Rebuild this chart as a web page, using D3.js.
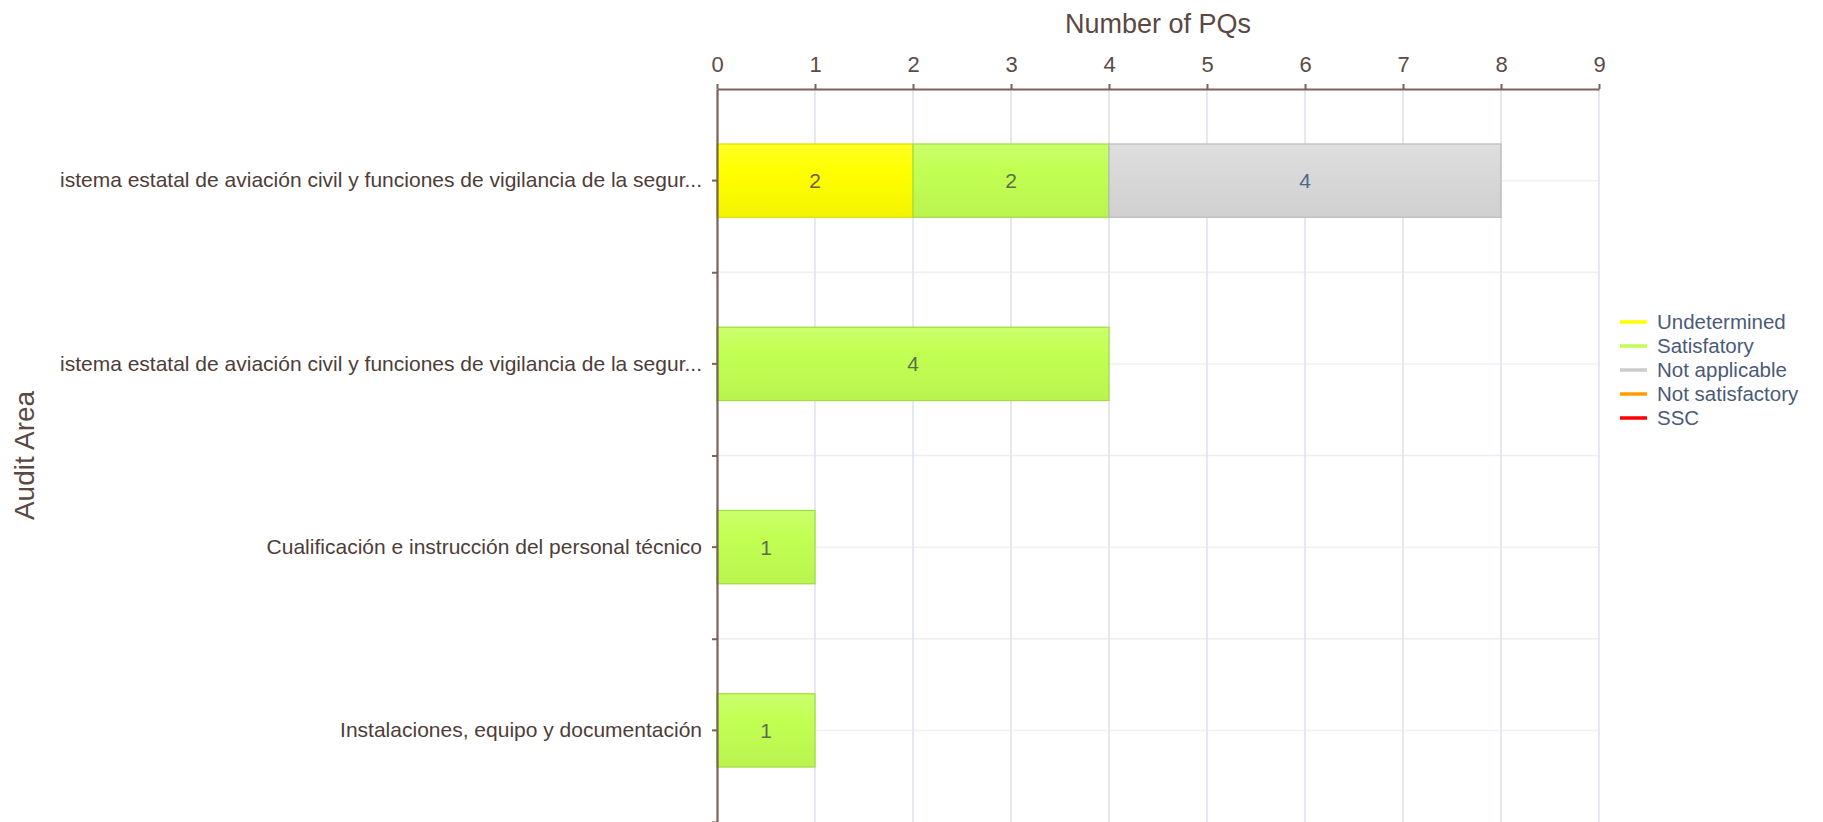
<!DOCTYPE html>
<html>
<head>
<meta charset="utf-8">
<script src="https://cdn.jsdelivr.net/npm/d3@7"></script>
<style>
  body { margin: 0; background: #fff; }
  svg { display: block; font-family: "Liberation Sans", Arial, sans-serif; }
</style>
</head>
<body>
<svg id="chart" width="1823" height="822"></svg>
<script>
// audit areas (the first two labels come truncated like that)
const categories = [
  'istema estatal de aviación civil y funciones de vigilancia de la segur...',
  'istema estatal de aviación civil y funciones de vigilancia de la segur...',
  'Cualificación e instrucción del personal técnico',
  'Instalaciones, equipo y documentación'
]
const seriesNames = ['Undetermined', 'Satisfatory', 'Not applicable', 'Not satisfactory', 'SSC']
const undetermined = [2, 0, 0, 0]
const satisfatory = [2, 4, 1, 1]
const notApplicable = [4, 0, 0, 0]
const notSatisfactory = [0, 0, 0, 0]
const ssc = [0, 0, 0, 0]
const xTicks = [0, 1, 2, 3, 4, 5, 6, 7, 8, 9]

const colors = {
  'Undetermined': '#ffff00',
  'Satisfatory': '#c2ff52',
  'Not applicable': '#d9d9d9',
  'Not satisfactory': '#ff9c00',
  'SSC': '#ff0000'
}
const strokes = {
  'Undetermined': '#e0e000',
  'Satisfatory': '#a2dc3c',
  'Not applicable': '#b9b9b9',
  'Not satisfactory': '#e08800',
  'SSC': '#d00000'
}
const labelColors = {
  'Undetermined': '#6b5e48',
  'Satisfatory': '#5f6e4a',
  'Not applicable': '#4d6685',
  'Not satisfactory': '#444',
  'SSC': '#444'
}

const table = categories.map((c, i) => ({
  idx: i,
  'Undetermined': undetermined[i],
  'Satisfatory': satisfatory[i],
  'Not applicable': notApplicable[i],
  'Not satisfactory': notSatisfactory[i],
  'SSC': ssc[i]
}))

const svg = d3.select('#chart')
const plotLeft = 717, plotRight = 1599, plotTop = 89, plotBottom = 822

const x = d3.scaleLinear().domain([0, 9]).range([plotLeft, plotRight])
const y = d3.scaleBand()
  .domain(categories.map((c, i) => i))
  .range([plotTop, plotBottom])
  .paddingInner(0.6)
  .paddingOuter(0.3)
// band edges, for the boundary ticks and grid
const yEdge = d3.scaleLinear().domain([0, categories.length]).range([plotTop, plotBottom])
const yCenter = i => y(i) + y.bandwidth() / 2

// gradients for bars
const defs = svg.append('defs')
seriesNames.forEach((s, k) => {
  const g = defs.append('linearGradient')
    .attr('id', 'grad' + k)
    .attr('x1', 0).attr('y1', 0).attr('x2', 0).attr('y2', 1)
  const base = d3.color(colors[s])
  g.append('stop').attr('offset', '0%').attr('stop-color', d3.interpolateRgb(base, '#fff')(0.15))
  g.append('stop').attr('offset', '35%').attr('stop-color', base.formatHex())
  g.append('stop').attr('offset', '100%').attr('stop-color', base.darker(0.12).formatHex())
})

// grid
const grid = svg.append('g')
grid.selectAll('line.hb')
  .data(d3.range(1, categories.length))
  .join('line')
  .attr('x1', plotLeft).attr('x2', plotRight)
  .attr('y1', d => yEdge(d)).attr('y2', d => yEdge(d))
  .attr('stroke', '#eeeeee').attr('stroke-width', 1.5)
grid.selectAll('line.hc')
  .data(categories.map((c, i) => i))
  .join('line')
  .attr('x1', plotLeft).attr('x2', plotRight)
  .attr('y1', d => yCenter(d)).attr('y2', d => yCenter(d))
  .attr('stroke', '#f0f0f0').attr('stroke-width', 1.5)
grid.selectAll('line.v')
  .data(xTicks.slice(1))
  .join('line')
  .attr('x1', d => x(d)).attr('x2', d => x(d))
  .attr('y1', plotTop).attr('y2', plotBottom)
  .attr('stroke', '#dfe4ec').attr('stroke-width', 1.6)

// bars
const stacked = d3.stack().keys(seriesNames)(table)
const layers = svg.append('g').selectAll('g')
  .data(stacked)
  .join('g')

layers.selectAll('rect')
  .data(d => d.map(p => ({ p, key: d.key, k: seriesNames.indexOf(d.key) })).filter(d => d.p[1] - d.p[0] > 0))
  .join('rect')
  .attr('x', d => x(d.p[0]))
  .attr('y', d => y(d.p.data.idx))
  .attr('width', d => x(d.p[1]) - x(d.p[0]))
  .attr('height', y.bandwidth())
  .attr('fill', d => `url(#grad${d.k})`)
  .attr('stroke', d => strokes[d.key])
  .attr('stroke-width', 1.2)

layers.selectAll('text')
  .data(d => d.map(p => ({ p, key: d.key })).filter(d => d.p[1] - d.p[0] > 0))
  .join('text')
  .attr('x', d => (x(d.p[0]) + x(d.p[1])) / 2)
  .attr('y', d => yCenter(d.p.data.idx))
  .attr('dy', '0.36em')
  .attr('text-anchor', 'middle')
  .attr('font-size', 21)
  .attr('fill', d => labelColors[d.key])
  .text(d => d.p[1] - d.p[0])

// axes
const axisColor = '#7d625a'
const xAxis = svg.append('g')
  .attr('transform', `translate(0,${plotTop})`)
  .call(d3.axisTop(x).tickValues(xTicks).tickFormat(d3.format('d')).tickSizeInner(5).tickSizeOuter(0).tickPadding(12))
xAxis.select('.domain').attr('stroke', axisColor).attr('stroke-width', 2.2)
xAxis.selectAll('.tick line').attr('stroke', axisColor).attr('stroke-width', 2)
xAxis.selectAll('.tick text').attr('fill', '#5c4b45').attr('font-size', 22)

const yAxis = svg.append('g')
  .attr('transform', `translate(${plotLeft},0)`)
  .call(d3.axisLeft(y).tickFormat(i => categories[i]).tickSizeInner(5).tickSizeOuter(0).tickPadding(10))
yAxis.select('.domain').attr('stroke', axisColor).attr('stroke-width', 2.2)
yAxis.selectAll('.tick line').attr('stroke', axisColor).attr('stroke-width', 2)
yAxis.selectAll('.tick text').attr('fill', '#4e3d38').attr('font-size', 21)

const yEdgeAxis = svg.append('g')
  .attr('transform', `translate(${plotLeft},0)`)
  .call(d3.axisLeft(yEdge).tickValues(d3.range(1, categories.length + 1)).tickFormat('').tickSizeInner(5).tickSizeOuter(0))
yEdgeAxis.select('.domain').remove()
yEdgeAxis.selectAll('.tick line').attr('stroke', axisColor).attr('stroke-width', 2)

// axis titles
svg.append('text')
  .attr('x', (plotLeft + plotRight) / 2)
  .attr('y', 33)
  .attr('text-anchor', 'middle')
  .attr('font-size', 27)
  .attr('fill', '#5a4843')
  .text('Number of PQs')

svg.append('text')
  .attr('transform', `translate(34,${(plotTop + plotBottom) / 2}) rotate(-90)`)
  .attr('text-anchor', 'middle')
  .attr('font-size', 28)
  .attr('fill', '#5a4843')
  .text('Audit Area')

// legend
const legend = svg.append('g').attr('transform', 'translate(1620,322)')
const item = legend.selectAll('g')
  .data(seriesNames)
  .join('g')
  .attr('transform', (d, i) => `translate(0,${i * 24})`)
item.append('line')
  .attr('x1', 0).attr('x2', 27)
  .attr('stroke', d => colors[d] === '#d9d9d9' ? '#cccccc' : colors[d])
  .attr('stroke-width', 3.5)
item.append('text')
  .attr('x', 37)
  .attr('dy', '0.35em')
  .attr('font-size', 20.5)
  .attr('fill', '#4b5a78')
  .text(d => d)
</script>
</body>
</html>
